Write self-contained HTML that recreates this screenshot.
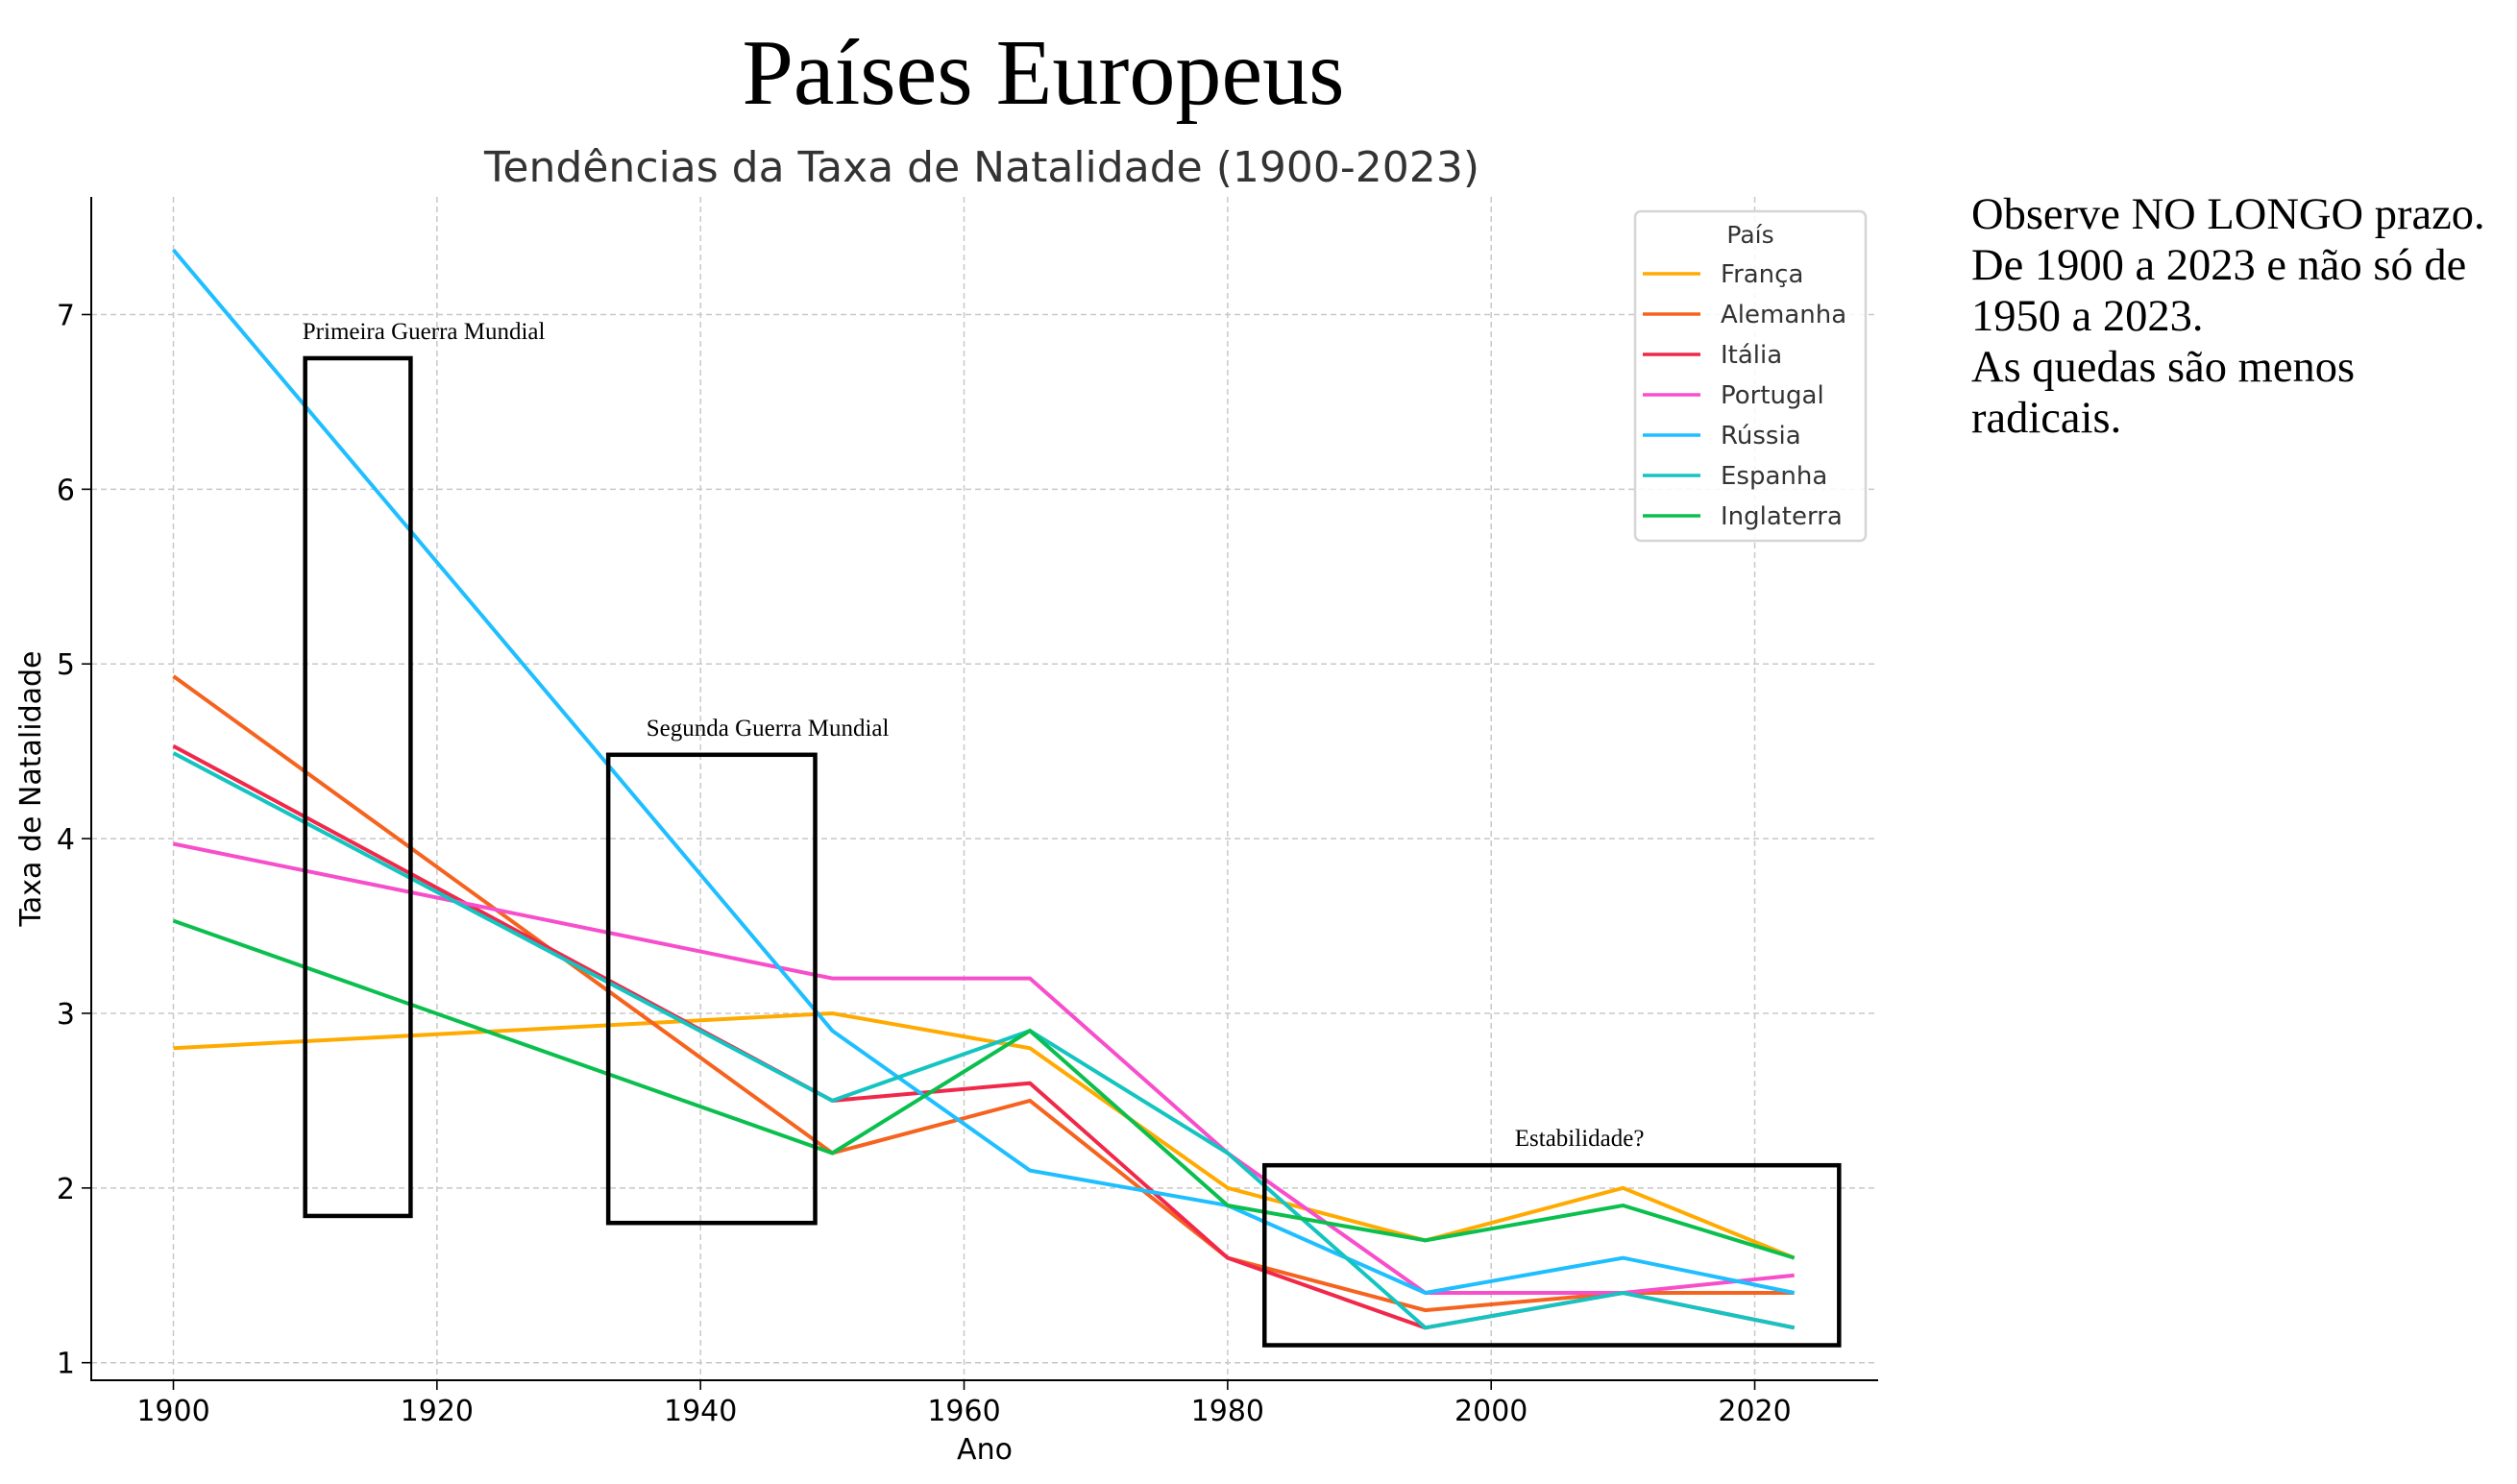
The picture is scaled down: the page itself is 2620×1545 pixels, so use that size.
<!DOCTYPE html>
<html><head><meta charset="utf-8"><style>
html,body{margin:0;padding:0;background:#fff;}
svg{display:block;}
</style></head><body>
<svg id="chart" width="2620" height="1545" xmlns="http://www.w3.org/2000/svg">
<text x="1086" y="108" text-anchor="middle" font-family="Liberation Serif, serif" font-size="98" textLength="627" lengthAdjust="spacingAndGlyphs" fill="#000">Países Europeus</text>
<text x="1022" y="189" text-anchor="middle" font-family="DejaVu Sans, sans-serif" font-size="44" textLength="1036" lengthAdjust="spacingAndGlyphs" fill="#333">Tendências da Taxa de Natalidade (1900-2023)</text>
<g id="grid"></g>
<g id="series"></g>
<g id="boxes"></g>
<g id="axes"></g>
<g id="legend"></g>
<g font-family="Liberation Serif, serif" font-size="46.5" fill="#000">
<text x="2052" y="238">Observe NO LONGO prazo.</text>
<text x="2052" y="291">De 1900 a 2023 e não só de</text>
<text x="2052" y="344">1950 a 2023.</text>
<text x="2052" y="397">As quedas são menos</text>
<text x="2052" y="450">radicais.</text>
</g>
</svg>
<script>
const years = [1900, 1950, 1965, 1980, 1995, 2010, 2023];
const countries = ["França","Alemanha","Itália","Portugal","Rússia","Espanha","Inglaterra"];
const colors = ["#ffaa00","#f5631f","#f0284a","#f74ecb","#1fbfff","#14c4c0","#0bbf4e"];
const franca = [2.8, 3.0, 2.8, 2.0, 1.7, 2.0, 1.6];
const alemanha = [4.93, 2.2, 2.5, 1.6, 1.3, 1.4, 1.4];
const italia = [4.53, 2.5, 2.6, 1.6, 1.2, 1.4, 1.2];
const portugal = [3.97, 3.2, 3.2, 2.2, 1.4, 1.4, 1.5];
const russia = [7.37, 2.9, 2.1, 1.9, 1.4, 1.6, 1.4];
const espanha = [4.49, 2.5, 2.9, 2.2, 1.2, 1.4, 1.2];
const inglaterra = [3.53, 2.2, 2.9, 1.9, 1.7, 1.9, 1.6];
const xTicks = [1900, 1920, 1940, 1960, 1980, 2000, 2020];
const yTicks = [1, 2, 3, 4, 5, 6, 7];
const annotations = ["Primeira Guerra Mundial","Segunda Guerra Mundial","Estabilidade?"];
const boxX0 = [1910, 1933, 1982.8];
const boxX1 = [1918, 1948.7, 2026.4];
const boxY0 = [1.84, 1.8, 1.1];
const boxY1 = [6.75, 4.48, 2.13];
const labelYear = [1919, 1945.1, 2006.7];

const NS = "http://www.w3.org/2000/svg";
const xS = v => 180.5 + (v - 1900) * 13.717;
const yS = v => 1418.7 - (v - 1) * 181.87;
function mk(tag, attrs, parent) {
  const e = document.createElementNS(NS, tag);
  for (const k in attrs) e.setAttribute(k, attrs[k]);
  parent.appendChild(e);
  return e;
}
const grid = document.getElementById('grid');
const axes = document.getElementById('axes');
xTicks.forEach(t => {
  const l = mk('line', {x1: xS(t), x2: xS(t), y1: 205, y2: 1437, stroke: '#c8c8c8', 'stroke-width': 1.5, 'stroke-dasharray': '6,4'}, grid);
  
  
  mk('line', {x1: xS(t), x2: xS(t), y1: 1437, y2: 1447, stroke: '#000', 'stroke-width': 1.6}, axes);
  const tx = mk('text', {x: xS(t), y: 1479, 'text-anchor': 'middle', 'font-family': 'DejaVu Sans, sans-serif', 'font-size': 30, fill: '#000'}, axes);
  tx.textContent = t;
  
  
});
yTicks.forEach(t => {
  const l = mk('line', {x1: 95, x2: 1955, y1: yS(t), y2: yS(t), stroke: '#c8c8c8', 'stroke-width': 1.5, 'stroke-dasharray': '6,4'}, grid);
  
  
  mk('line', {x1: 85, x2: 95, y1: yS(t), y2: yS(t), stroke: '#000', 'stroke-width': 1.6}, axes);
  const tx = mk('text', {x: 78, y: yS(t) + 11, 'text-anchor': 'end', 'font-family': 'DejaVu Sans, sans-serif', 'font-size': 30, fill: '#000'}, axes);
  tx.textContent = t;
  
  
});
const sp1 = mk('line', {x1: 95, x2: 95, y1: 205, y2: 1438, stroke: '#000', 'stroke-width': 2}, axes);


const sp2 = mk('line', {x1: 94, x2: 1955, y1: 1437, y2: 1437, stroke: '#000', 'stroke-width': 2}, axes);


const xl = mk('text', {x: 1025, y: 1519, 'text-anchor': 'middle', 'font-family': 'DejaVu Sans, sans-serif', 'font-size': 30, fill: '#000'}, axes);
xl.textContent = 'Ano';


const yl = mk('text', {x: 0, y: 0, transform: 'translate(42,821) rotate(-90)', 'text-anchor': 'middle', 'font-family': 'DejaVu Sans, sans-serif', 'font-size': 30, fill: '#000'}, axes);
yl.textContent = 'Taxa de Natalidade';



const seriesData = [franca, alemanha, italia, portugal, russia, espanha, inglaterra];
const sg = document.getElementById('series');
seriesData.forEach((vals, i) => {
  const pts = vals.map((v, j) => xS(years[j]).toFixed(1) + ',' + yS(v).toFixed(1)).join(' ');
  const pl = mk('polyline', {points: pts, fill: 'none', stroke: colors[i], 'stroke-width': 4, 'stroke-linejoin': 'miter'}, sg);
  
  
});

const bg = document.getElementById('boxes');
annotations.forEach((a, i) => {
  const r = mk('rect', {x: xS(boxX0[i]), y: yS(boxY1[i]), width: xS(boxX1[i]) - xS(boxX0[i]), height: yS(boxY0[i]) - yS(boxY1[i]), fill: 'none', stroke: '#000', 'stroke-width': 4.5}, bg);
  
  
  const t = mk('text', {x: xS(labelYear[i]), y: yS(boxY1[i]) - 20, 'text-anchor': 'middle', 'font-family': 'Liberation Serif, serif', 'font-size': 25, fill: '#000'}, bg);
  t.textContent = a;
  
  
});

const lg = document.getElementById('legend');
const fr = mk('rect', {x: 1702, y: 220, width: 240, height: 343, rx: 6, fill: '#fff', 'fill-opacity': 0.85, stroke: '#d5d5d5', 'stroke-width': 2.5}, lg);


const lt = mk('text', {x: 1822, y: 253, 'text-anchor': 'middle', 'font-family': 'DejaVu Sans, sans-serif', 'font-size': 25, fill: '#333'}, lg);
lt.textContent = 'País';


countries.forEach((c, i) => {
  const y = 285 + i * 42;
  const g = mk('g', {}, lg);
  
  
  mk('line', {x1: 1710, x2: 1770, y1: y, y2: y, stroke: colors[i], 'stroke-width': 3.6}, g);
  const t = mk('text', {x: 1791, y: y + 9, 'font-family': 'DejaVu Sans, sans-serif', 'font-size': 26, fill: '#333'}, g);
  t.textContent = c;
});
</script>
</body></html>
